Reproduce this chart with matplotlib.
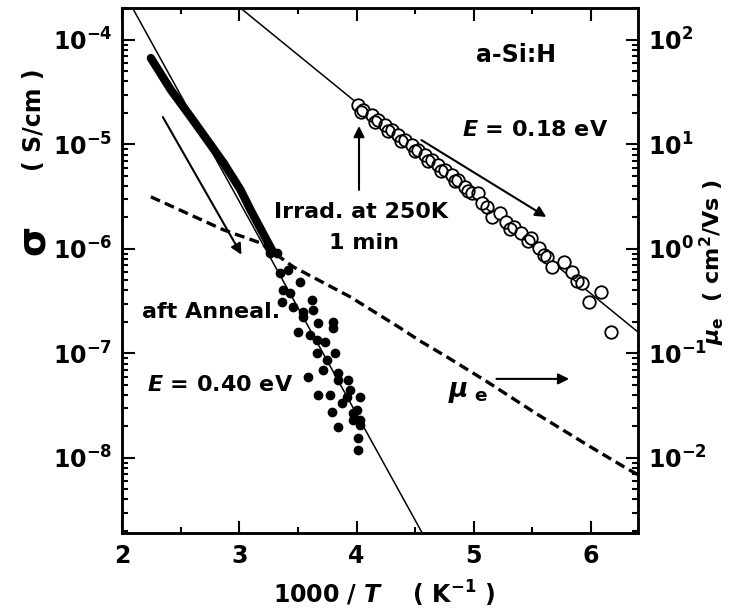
import matplotlib
matplotlib.use("Agg")
import math
import matplotlib.pyplot as plt
from matplotlib import ticker

plt.rcParams['font.family'] = ['DejaVu Sans']
plt.rcParams['font.weight'] = 'bold'
plt.rcParams['mathtext.fontset'] = 'custom'
plt.rcParams['mathtext.rm'] = 'DejaVu Sans:bold'
plt.rcParams['mathtext.it'] = 'DejaVu Sans:italic:bold'
plt.rcParams['mathtext.bf'] = 'DejaVu Sans:bold'
plt.rcParams['mathtext.default'] = 'rm'

#%% data
# irradiated at 250K, open circles (S/cm)
irr_x = [4.013, 4.055, 4.132, 4.183, 4.242, 4.301, 4.352, 4.412, 4.471, 4.522,
         4.582, 4.641, 4.692, 4.752, 4.811, 4.862, 4.921, 4.981, 5.032, 5.074,
         5.151, 5.219, 5.278, 5.346, 5.406, 5.490, 5.558, 5.626, 5.669, 5.771,
         5.839, 5.924, 5.983, 6.085, 6.170]
irr_y = [2.39e-5, 2.14e-5, 1.91e-5, 1.71e-5, 1.54e-5, 1.38e-5, 1.23e-5, 1.10e-5, 9.9e-6, 8.9e-6,
         7.9e-6, 7.1e-6, 6.4e-6, 5.7e-6, 5.1e-6, 4.57e-6, 3.92e-6, 3.43e-6, 3.43e-6, 2.75e-6,
         2.02e-6, 2.21e-6, 1.81e-6, 1.62e-6, 1.42e-6, 1.27e-6, 1.02e-6, 8.4e-7, 6.7e-7, 7.5e-7,
         6.0e-7, 4.73e-7, 3.11e-7, 3.88e-7, 1.61e-7]
# second row of the chain
irr2_x = [4.04, 4.16, 4.27, 4.38, 4.50, 4.61, 4.72, 4.84, 4.95, 5.11, 5.31, 5.46, 5.60, 5.88]
irr2_y = [2.05e-5, 1.65e-5, 1.33e-5, 1.07e-5, 8.6e-6, 6.9e-6, 5.6e-6, 4.5e-6, 3.6e-6,
          2.5e-6, 1.55e-6, 1.2e-6, 8.8e-7, 4.9e-7]

# after anneal, dense part (filled circles)
ann_x = [2.246, 2.416, 2.586, 2.866, 3.011, 3.096, 3.291]
ann_y = [6.7e-5, 3.33e-5, 1.83e-5, 6.65e-6, 3.67e-6, 2.36e-6, 9.2e-7]
# after anneal, scattered part
sc_x = [3.265, 3.350, 3.435, 3.546, 3.665, 3.749, 3.843, 3.919, 3.970, 4.030,
        3.325, 3.418, 3.520, 3.376, 3.622, 3.367, 3.461, 3.546, 3.631, 3.800,
        3.800, 3.503, 3.673, 3.605, 3.732, 3.817, 3.665, 3.716, 3.588, 3.843,
        3.928, 3.673, 3.775, 3.945, 4.030, 3.792, 3.877, 4.004, 3.970, 3.843,
        4.030, 4.013, 4.013]
sc_y = [9.2e-7, 5.9e-7, 3.8e-7, 2.23e-7, 1.35e-7, 8.7e-8, 5.6e-8, 3.8e-8, 2.7e-8, 2.07e-8,
        9.2e-7, 6.3e-7, 4.8e-7, 4.05e-7, 3.25e-7, 3.1e-7, 2.8e-7, 2.5e-7, 2.6e-7, 2.0e-7,
        1.75e-7, 1.61e-7, 1.96e-7, 1.50e-7, 1.29e-7, 1.01e-7, 1.01e-7, 7.0e-8, 5.95e-8, 6.5e-8,
        5.6e-8, 4.0e-8, 4.0e-8, 4.5e-8, 3.8e-8, 2.75e-8, 3.36e-8, 2.9e-8, 2.3e-8, 1.98e-8,
        2.3e-8, 1.55e-8, 1.19e-8]

# fits
fit040_x = [2.09, 4.56]
fit040_y = [2.02e-4, 1.91e-9]
fit018_x = [3.01, 6.4]
fit018_y = [2.02e-4, 1.6e-7]

# mobility (cm2/Vs), right axis
mu_x = [2.246, 2.866, 3.180, 3.461, 3.945, 4.369, 4.539, 4.769, 5.108, 5.533, 5.958, 6.297, 6.4]
mu_y = [3.15, 1.52, 1.14, 0.673, 0.348, 0.176, 0.132, 0.0927, 0.054, 0.0265, 0.0135, 8.0e-3, 6.9e-3]

ylo, yhi = 1.91e-9, 2.02e-4

#%% figure
fig = plt.figure(figsize=(7.32, 6.12), dpi=100)
ax = fig.add_axes([122/732, 1-533/612, 516/732, 525/612])
ax2 = ax.twinx()

ax.set_yscale('log')
ax2.set_yscale('log')
ax.set_xlim(2, 6.4)
ax.set_ylim(ylo, yhi)
ax2.set_ylim(ylo*1e6, yhi*1e6)

ax.plot(fit040_x, fit040_y, color='black', lw=1.1)
ax.plot(fit018_x, fit018_y, color='black', lw=1.1)
ax.plot(ann_x, ann_y, color='black', lw=6, solid_capstyle='round')
ax.plot(sc_x, sc_y, 'o', color='black', ms=6)
ax.plot(irr_x, irr_y, 'o', mfc='white', mec='black', mew=1.3, ms=9)
ax.plot(irr2_x, irr2_y, 'o', mfc='none', mec='black', mew=1.3, ms=9)
ax2.plot(mu_x, mu_y, '--', color='black', lw=2.4, dashes=(3, 1.6))

arr = dict(arrowstyle='-|>', color='black', lw=1.5, mutation_scale=16,
           shrinkA=0, shrinkB=0)
ax.annotate('', xy=(3.019, 8.8e-7), xytext=(2.348, 1.83e-5), arrowprops=arr)
ax.annotate('', xy=(4.021, 1.5e-5), xytext=(4.021, 3.67e-6), arrowprops=arr)
ax.annotate('', xy=(5.618, 2.02e-6), xytext=(4.553, 1.10e-5), arrowprops=arr)
ax.annotate('', xy=(5.813, 5.7e-8), xytext=(5.193, 5.7e-8), arrowprops=arr)

fs = 16
ax.text(5.363, 7.2e-5, 'a-Si:H', ha='center', va='center', fontsize=17)
ax.text(5.525, 1.38e-5, '$\\mathit{E}$ = 0.18 eV', ha='center', va='center', fontsize=fs)
ax.text(4.038, 2.26e-6, 'Irrad. at 250K', ha='center', va='center', fontsize=fs)
ax.text(4.064, 1.14e-6, '1 min', ha='center', va='center', fontsize=fs)
ax.text(2.17, 2.5e-7, 'aft Anneal.', ha='left', va='center', fontsize=fs)
ax.text(2.212, 5.0e-8, '$\\mathit{E}$ = 0.40 eV', ha='left', va='center', fontsize=fs)
ax.text(4.78, 4.3e-8, '$\\mathit{\\mu}_{\\ \\mathrm{e}}$', ha='left', va='center', fontsize=19)

# axis labels
fig.text(35/732, 1-242/612, '$\\sigma$', rotation=90, ha='center', va='center', fontsize=28)
fig.text(34/732, 1-120/612, '( S/cm )', rotation=90, ha='center', va='center', fontsize=17)
fig.text(712/732, 1-262/612, '$\\mathit{\\mu}_{\\mathrm{e}}$  ( cm$^{2}$/Vs )', rotation=90,
         ha='center', va='center', fontsize=16)
fig.text(384/732, 1-594/612, '1000 / $\\mathit{T}$    ( K$^{-1}$ )', ha='center', va='center',
         fontsize=17)

# ticks
ax.xaxis.set_major_locator(ticker.MultipleLocator(1))
ax.xaxis.set_minor_locator(ticker.MultipleLocator(0.5))
ax.set_yticks([1e-8, 1e-7, 1e-6, 1e-5, 1e-4])
ax2.set_yticks([1e-2, 1e-1, 1e0, 1e1, 1e2])
fmt = ticker.FuncFormatter(lambda v, p: '10$^{%d}$' % round(math.log10(v)))
ax.yaxis.set_major_formatter(fmt)
ax2.yaxis.set_major_formatter(fmt)
for a in (ax, ax2):
    a.yaxis.set_minor_locator(ticker.LogLocator(base=10, subs=range(2, 10), numticks=20))
    a.yaxis.set_minor_formatter(ticker.NullFormatter())
ax.tick_params(which='both', direction='in', top=True, right=False, labelsize=17, width=1.5)
ax.tick_params(which='major', length=9)
ax.tick_params(which='minor', length=4.5)
ax.tick_params(axis='x', pad=8)
ax.tick_params(axis='y', pad=7)
ax2.tick_params(which='both', direction='in', labelsize=17, width=1.5, pad=7)
ax2.tick_params(which='major', length=9)
ax2.tick_params(which='minor', length=4.5)
for a in (ax, ax2):
    for s in a.spines.values():
        s.set_linewidth(1.8)

fig.savefig('out.png', dpi=100)
